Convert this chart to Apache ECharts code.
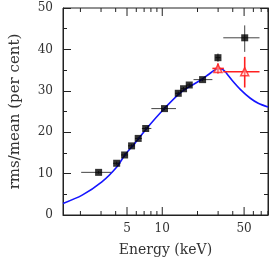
<!DOCTYPE html>
<html>
<head>
<meta charset="utf-8">
<script src="https://cdn.jsdelivr.net/npm/echarts@6/dist/echarts.min.js"></script>
<style>html,body{margin:0;padding:0;background:#fff}#c{width:273px;height:264px}</style>
</head>
<body>
<div id="c"></div>
<script>
// ---- data ----
const blackE   = [2.86, 4.08, 4.77, 5.47, 6.23, 7.22, 10.45, 13.7, 15.2, 17.0, 22.1, 29.9, 50.6];
const blackV   = [10.3, 12.5, 14.5, 16.7, 18.5, 20.9, 25.7, 29.4, 30.5, 31.4, 32.7, 38.0, 42.8];
const blackElo = [2.03, 3.8, 4.45, 5.1, 5.85, 6.7, 8.07, 12.9, 14.4, 16.1, 18.5, 28.5, 33.2];
const blackEhi = [3.7, 4.4, 5.1, 5.85, 6.7, 8.07, 13.1, 14.4, 16.1, 18.0, 26.8, 31.5, 67.7];
const blackVlo = [10.0, 12.1, 14.1, 16.3, 18.1, 20.5, 25.3, 29.0, 30.1, 31.0, 32.3, 37.0, 39.4];
const blackVhi = [10.6, 12.9, 14.9, 17.1, 18.9, 21.3, 26.1, 29.8, 30.9, 31.8, 33.1, 39.0, 45.8];

const redE   = [29.9, 50.6];
const redV   = [35.4, 34.6];
const redElo = [26.8, 33.2];
const redEhi = [33.6, 67.7];
const redVlo = [34.2, 30.8];
const redVhi = [36.6, 38.2];

const curveE = [1.42, 2.07, 3.05, 4.09, 4.8, 5.83, 7.57, 10.1, 14.5, 21.4, 25.0, 28.0, 30.5, 33.0, 35.5, 39.6, 46.6, 56.5, 66, 80];
const curveV = [2.8, 4.8, 8.0, 11.6, 14.5, 17.3, 21.3, 25.3, 29.7, 32.6, 34.0, 35.0, 35.4, 35.1, 34.2, 32.5, 30.3, 28.2, 27.0, 26.1];

const xMajorTicks = [5, 10, 50];
const xMajorLabels = ['5', '10', '50'];
const xMinorTicks = [2, 3, 4, 6, 7, 8, 9, 20, 30, 40, 60, 70, 80];

const X_MIN = 1.42, X_MAX = 80, Y_MIN = 0, Y_MAX = 50;
const FONT = 'DejaVu Serif';
const AX = '#222';
const TXT = '#333';

const chart = echarts.init(document.getElementById('c'), null, {renderer: 'canvas'});

function errData(E, V, Elo, Ehi, Vlo, Vhi) {
  return E.map((e, i) => [e, V[i], Elo[i], Ehi[i], Vlo[i], Vhi[i]]);
}
function errRender(color, width) {
  return function (params, api) {
    const c = api.coord([api.value(0), api.value(1)]);
    const l = api.coord([api.value(2), api.value(1)]);
    const r = api.coord([api.value(3), api.value(1)]);
    const lo = api.coord([api.value(0), api.value(4)]);
    const hi = api.coord([api.value(0), api.value(5)]);
    return {
      type: 'group',
      children: [
        {type: 'line', shape: {x1: l[0], y1: c[1], x2: r[0], y2: c[1]}, style: {stroke: color, lineWidth: width}},
        {type: 'line', shape: {x1: c[0], y1: lo[1], x2: c[0], y2: hi[1]}, style: {stroke: color, lineWidth: width}}
      ]
    };
  };
}

const tickData = xMajorTicks.map((v, i) => [v, 1, i]).concat(xMinorTicks.map(v => [v, 0, -1]));

const option = {
  animation: false,
  grid: {left: 61, right: 5, top: 8, bottom: 49, show: true, borderColor: AX, borderWidth: 1, backgroundColor: 'transparent'},
  xAxis: {
    type: 'log', logBase: 10, min: X_MIN, max: X_MAX,
    axisLine: {show: true, lineStyle: {color: AX}},
    axisTick: {show: false}, axisLabel: {show: false}, splitLine: {show: false},
    minorTick: {show: false}, minorSplitLine: {show: false},
    name: 'Energy (keV)', nameLocation: 'middle', nameGap: 28,
    nameTextStyle: {fontFamily: FONT, fontSize: 14, color: TXT}
  },
  yAxis: [
    {
      type: 'value', min: Y_MIN, max: Y_MAX, interval: 10, position: 'left',
      axisLine: {show: true, lineStyle: {color: AX}},
      axisTick: {show: true, inside: true, length: 8, lineStyle: {color: AX}},
      minorTick: {show: true, splitNumber: 2, length: 4, lineStyle: {color: AX}},
      splitLine: {show: false},
      axisLabel: {fontFamily: FONT, fontSize: 12, color: TXT, margin: 10},
      name: 'rms/mean (per cent)', nameLocation: 'middle', nameGap: 40,
      nameTextStyle: {fontFamily: FONT, fontSize: 15, color: TXT}
    },
    {
      type: 'value', min: Y_MIN, max: Y_MAX, interval: 10, position: 'right',
      axisLine: {show: true, lineStyle: {color: AX}},
      axisTick: {show: true, inside: true, length: 8, lineStyle: {color: AX}},
      minorTick: {show: true, splitNumber: 2, length: 4, lineStyle: {color: AX}},
      splitLine: {show: false}, axisLabel: {show: false}
    }
  ],
  series: [
    {
      type: 'custom', name: 'xticks', data: tickData, clip: false, silent: true, z: 5,
      renderItem: function (params, api) {
        const v = api.value(0), major = api.value(1), li = api.value(2);
        const b = api.coord([v, Y_MIN]);
        const t = api.coord([v, Y_MAX]);
        const len = major ? 8 : 4;
        const ch = [
          {type: 'line', shape: {x1: b[0], y1: b[1], x2: b[0], y2: b[1] - len}, style: {stroke: AX, lineWidth: 1}},
          {type: 'line', shape: {x1: t[0], y1: t[1], x2: t[0], y2: t[1] + len}, style: {stroke: AX, lineWidth: 1}}
        ];
        if (major) {
          ch.push({type: 'text', x: b[0], y: b[1] + 8,
            style: {text: xMajorLabels[li], fontFamily: FONT, fontSize: 12, fill: TXT, align: 'center', verticalAlign: 'top'}});
        }
        return {type: 'group', children: ch};
      }
    },
    {
      type: 'custom', name: 'black err', data: errData(blackE, blackV, blackElo, blackEhi, blackVlo, blackVhi),
      renderItem: errRender('#444', 1), z: 2, silent: true
    },
    {
      type: 'line', name: 'model', data: curveE.map((e, i) => [e, curveV[i]]),
      showSymbol: false, smooth: 0.3, lineStyle: {color: '#1515ff', width: 1.6}, z: 3, silent: true
    },
    {
      type: 'scatter', name: 'black', data: blackE.map((e, i) => [e, blackV[i]]),
      symbol: 'rect', symbolSize: 7, itemStyle: {color: '#000'}, z: 4
    },
    {
      type: 'custom', name: 'red err', data: errData(redE, redV, redElo, redEhi, redVlo, redVhi),
      renderItem: errRender('#ff2020', 1.6), z: 6, silent: true
    },
    {
      type: 'scatter', name: 'red', data: redE.map((e, i) => [e, redV[i]]),
      symbol: 'triangle', symbolSize: 8,
      itemStyle: {color: 'rgba(255,200,200,0.6)', borderColor: '#ff2020', borderWidth: 1.5}, z: 7
    }
  ]
};
chart.setOption(option);
</script>
</body>
</html>
